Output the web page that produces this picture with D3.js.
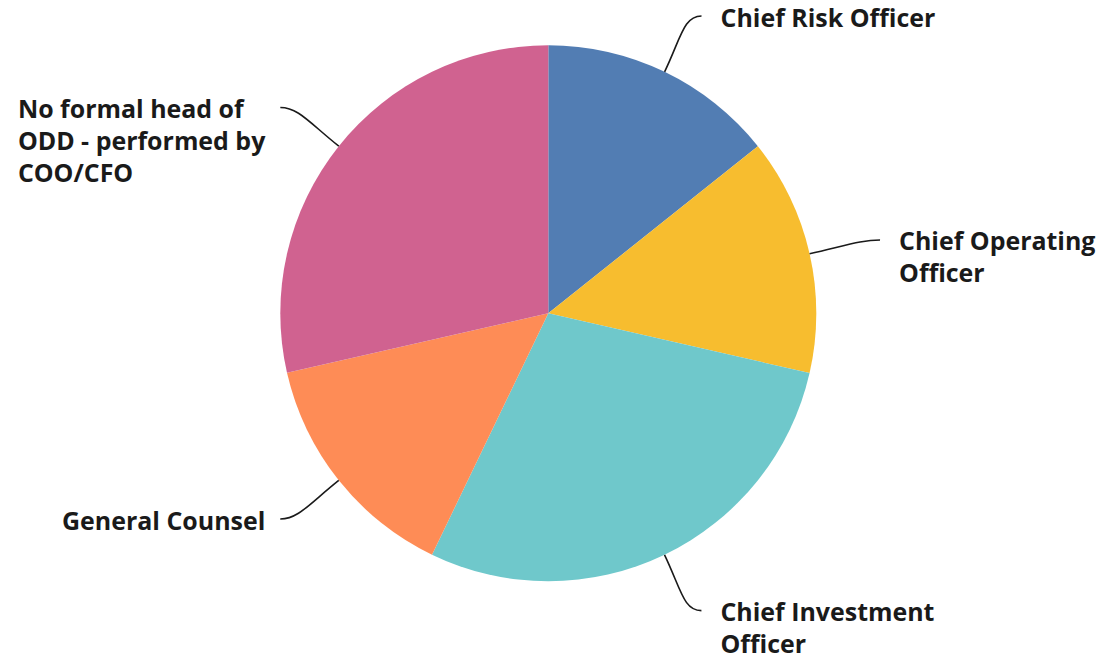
<!DOCTYPE html>
<html><head><meta charset="utf-8">
<script src="https://cdn.jsdelivr.net/npm/d3@7"></script>
<style>
html,body{margin:0;padding:0;background:#fff;}
svg{display:block;}
text{font-family:"Open Sans",Roboto,sans-serif;font-weight:700;fill:#1a1a1a;}
</style></head>
<body>
<script>
const categories = ["Chief Risk Officer","Chief Operating Officer","Chief Investment Officer","General Counsel","No formal head of ODD - performed by COO/CFO"];
const values = [14.29, 14.29, 28.57, 14.29, 28.57];
const labelLines = [["Chief Risk Officer"],["Chief Operating","Officer"],["Chief Investment","Officer"],["General Counsel"],["No formal head of","ODD - performed by","COO/CFO"]];
const colors = ["#527db3","#f7bd2f","#6fc8cb","#fe8c56","#d06290"];

const W = 1101, H = 660;
const cx = 548.3, cy = 313.3, R = 268, Rline = 330;
const lineH = 32;

const svg = d3.select("body").append("svg").attr("width", W).attr("height", H);
const g = svg.append("g").attr("transform", `translate(${cx},${cy})`);

// calibrate font size so label widths match the reference face
const probe = svg.append("text").attr("font-size", 24).text("Chief Risk Officer");
const fontSize = Math.min(25, 24 * 215 / probe.node().getComputedTextLength());
probe.remove();

const pie = d3.pie().sort(null).value(d => d);
const arcs = pie(values);
const arc = d3.arc().innerRadius(0).outerRadius(R);

g.selectAll("path.slice").data(arcs).enter().append("path")
  .attr("class","slice")
  .attr("d", arc)
  .attr("fill", (d,i) => colors[i]);

function polar(a, r){ return [Math.sin(a)*r, -Math.cos(a)*r]; }

arcs.forEach((d,i) => {
  const a = (d.startAngle + d.endAngle)/2;
  const s = Math.sin(a) >= 0 ? 1 : -1;
  const p0 = polar(a, R);
  const pe = polar(a, Rline); pe[0] += 10*s;
  const rad = [Math.sin(a), -Math.cos(a)];
  const c1 = [p0[0] + rad[0]*38, p0[1] + rad[1]*38];
  const c2 = [pe[0] - s*18, pe[1]];
  const path = d3.path();
  path.moveTo(p0[0], p0[1]);
  path.bezierCurveTo(c1[0], c1[1], c2[0], c2[1], pe[0], pe[1]);
  g.append("path").attr("d", path.toString())
    .attr("fill","none").attr("stroke","#1a1a1a").attr("stroke-width",1.6);

  const t = g.append("text").attr("font-size", fontSize);
  labelLines[i].forEach((ln, j) => {
    t.append("tspan").text(ln).attr("dy", j === 0 ? 0 : lineH);
  });
  const y0 = pe[1] + 10.5;
  if (s > 0) {
    t.attr("y", y0);
    t.selectAll("tspan").attr("x", pe[0] + 19);
  } else {
    let maxW = 0;
    t.selectAll("tspan").each(function(){ maxW = Math.max(maxW, this.getComputedTextLength()); });
    t.attr("y", y0);
    t.selectAll("tspan").attr("x", pe[0] - 15 - maxW);
  }
});
</script>
</body></html>
